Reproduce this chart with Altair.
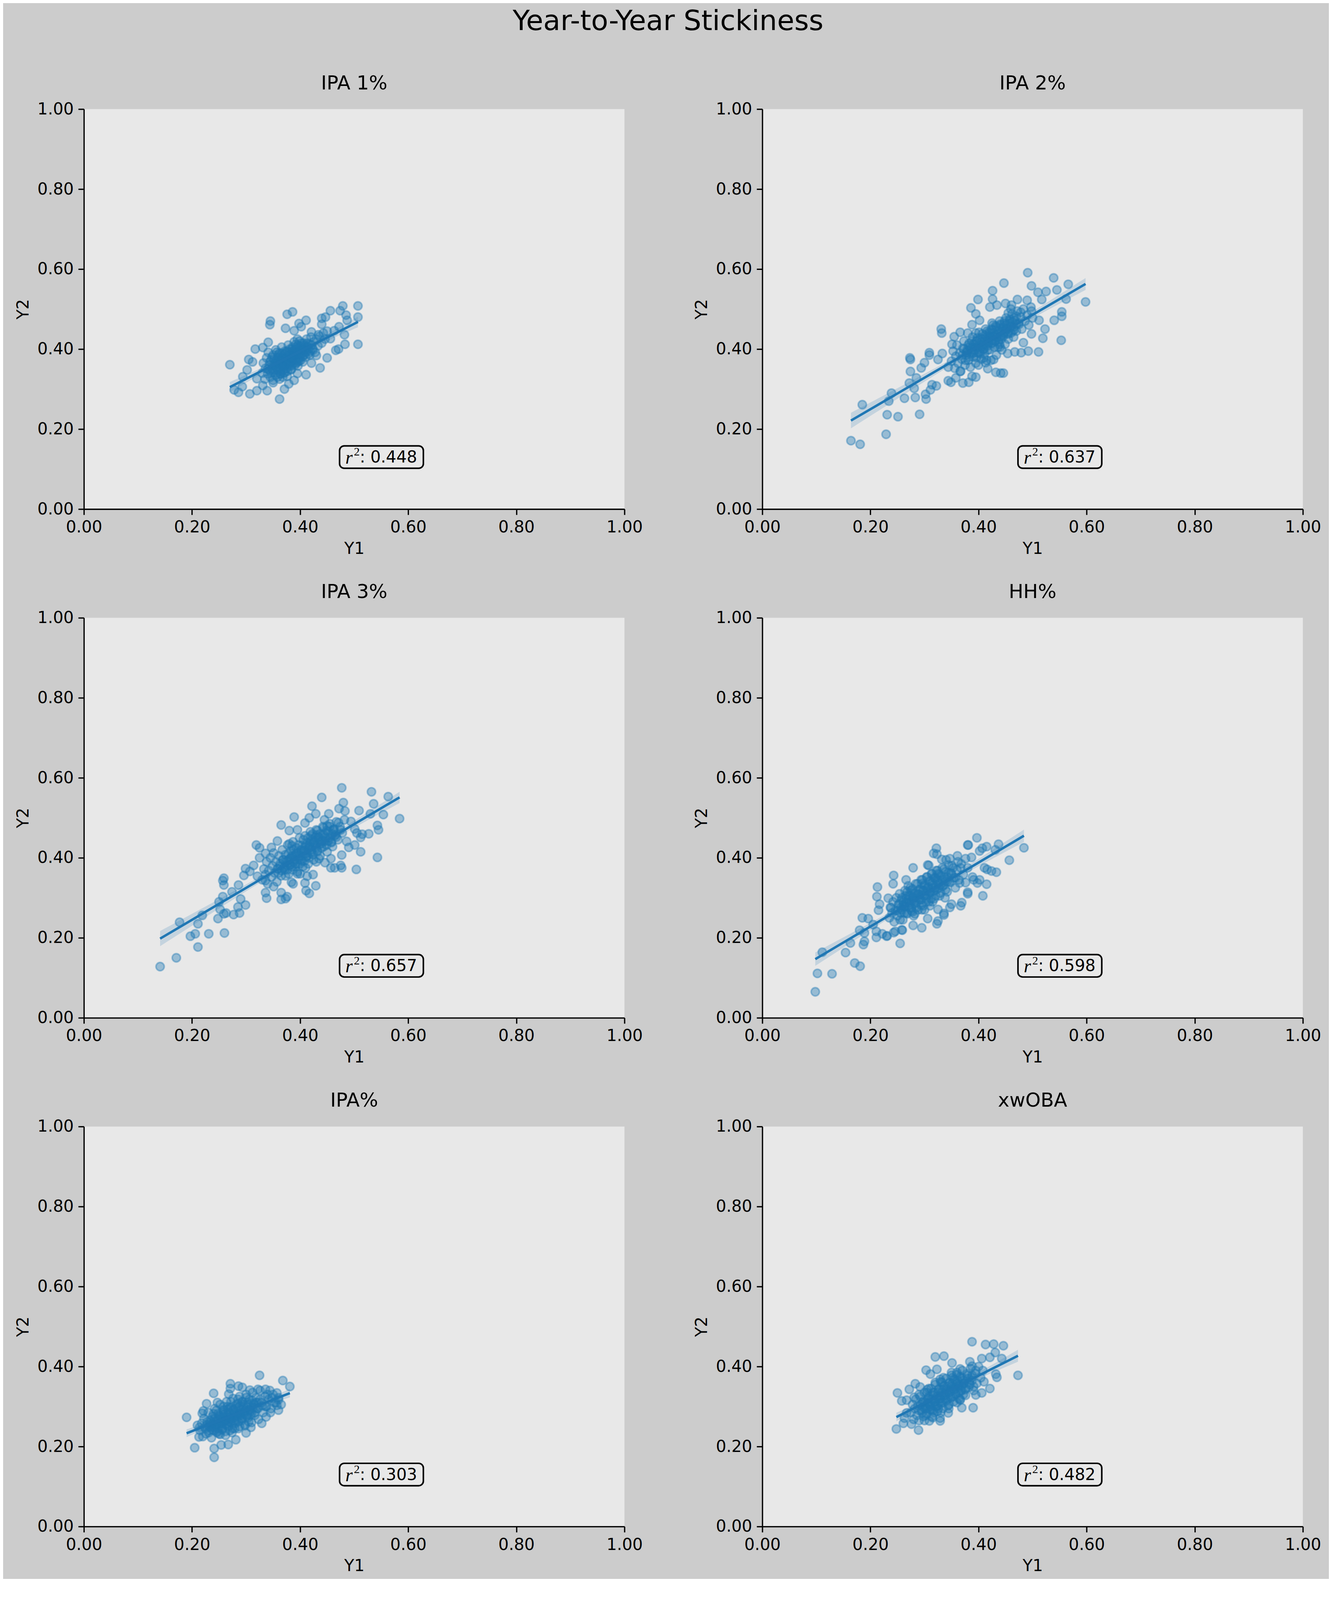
import altair as alt
import numpy as np
import pandas as pd

SUPTITLE = "Year-to-Year Stickiness"
TITLES = ["IPA 1%", "IPA 2%", "IPA 3%", "HH%", "IPA%", "xwOBA"]
R2_LABELS = ["0.448", "0.637", "0.657", "0.598", "0.303", "0.482"]
TICKS = [0.0, 0.2, 0.4, 0.6, 0.8, 1.0]
BOX_X = [0.473, 0.628]
BOX_Y = [0.102, 0.158]
LABEL_POS = [0.5505, 0.129]

# (Y1, Y2) pairs
P1 = [(0.270,0.361),(0.278,0.298),(0.286,0.292),(0.293,0.306),(0.307,0.288),(0.320,0.296),(0.339,0.296),
      (0.362,0.275),(0.371,0.300),(0.379,0.313),(0.345,0.470),(0.344,0.461),(0.376,0.487),(0.386,0.493),
      (0.373,0.452),(0.317,0.400),(0.305,0.374),(0.302,0.348),(0.294,0.331),(0.411,0.472),(0.398,0.464),
      (0.440,0.477),(0.447,0.480),(0.456,0.496),(0.479,0.508),(0.474,0.496),(0.507,0.508),(0.507,0.480),
      (0.485,0.485),(0.487,0.472),(0.482,0.436),(0.483,0.412),(0.507,0.412),(0.466,0.397),(0.471,0.400),
      (0.450,0.378),(0.437,0.353),(0.411,0.336),(0.395,0.339),(0.421,0.365),(0.456,0.426),(0.463,0.446),
      (0.472,0.456),(0.440,0.462),(0.434,0.436),(0.421,0.443),(0.389,0.446),(0.402,0.456),(0.341,0.417),
      (0.331,0.404),(0.312,0.368),(0.320,0.326),(0.331,0.309),(0.350,0.316),(0.389,0.322),(0.376,0.332),
      (0.430,0.384),
      (0.330,0.340),(0.332,0.365),(0.335,0.325),(0.336,0.352),(0.338,0.378),(0.340,0.338),(0.341,0.392),
      (0.343,0.360),(0.345,0.330),(0.346,0.372),(0.348,0.350),(0.350,0.385),(0.351,0.342),(0.353,0.365),
      (0.355,0.398),(0.356,0.355),(0.358,0.330),(0.359,0.378),(0.360,0.362),(0.362,0.390),(0.363,0.345),
      (0.365,0.372),(0.366,0.405),(0.368,0.358),(0.369,0.383),(0.370,0.340),(0.372,0.395),(0.373,0.368),
      (0.375,0.352),(0.376,0.380),(0.378,0.410),(0.379,0.362),(0.380,0.392),(0.382,0.375),(0.383,0.348),
      (0.385,0.400),(0.386,0.385),(0.388,0.365),(0.389,0.418),(0.390,0.392),(0.392,0.372),(0.393,0.405),
      (0.395,0.385),(0.396,0.358),(0.398,0.398),(0.399,0.420),(0.400,0.378),(0.402,0.408),(0.404,0.390),
      (0.405,0.368),(0.407,0.415),(0.408,0.398),(0.410,0.380),(0.412,0.425),(0.413,0.405),(0.415,0.388),
      (0.417,0.412),(0.419,0.395),(0.420,0.430),(0.423,0.402),(0.425,0.418),(0.428,0.392),(0.430,0.425),
      (0.433,0.408),(0.436,0.432),(0.440,0.415),(0.443,0.440),(0.446,0.425),(0.450,0.445),
      (0.340,0.350),(0.344,0.368),(0.347,0.340),(0.349,0.360),(0.352,0.375),(0.354,0.348),(0.357,0.366),
      (0.359,0.385),(0.361,0.352),(0.363,0.372),(0.364,0.338),(0.366,0.390),(0.367,0.362),(0.369,0.348),
      (0.371,0.378),(0.372,0.360),(0.374,0.392),(0.375,0.370),(0.377,0.345),(0.378,0.385),(0.380,0.365),
      (0.381,0.400),(0.383,0.378),(0.384,0.358),(0.386,0.395),(0.387,0.372),(0.389,0.382),(0.390,0.360),
      (0.392,0.400),(0.393,0.385),(0.395,0.368),(0.396,0.410),(0.398,0.388),(0.400,0.395),(0.401,0.372),
      (0.403,0.415),(0.405,0.400),(0.407,0.385),(0.409,0.405),(0.411,0.392),(0.414,0.415),(0.416,0.400),
      (0.418,0.385),(0.421,0.410),(0.424,0.398),(0.355,0.335),(0.362,0.325),(0.368,0.330),(0.350,0.322),
      (0.395,0.425)]
D1 = [(0.352,0.358),(0.355,0.372),(0.358,0.348),(0.360,0.380),(0.362,0.362),(0.365,0.350),(0.366,0.378),
      (0.368,0.368),(0.370,0.355),(0.371,0.388),(0.373,0.375),(0.375,0.362),(0.376,0.395),(0.378,0.372),
      (0.380,0.358),(0.381,0.385),(0.383,0.368),(0.385,0.378),(0.386,0.405),(0.388,0.390),(0.390,0.375),
      (0.391,0.398),(0.393,0.365),(0.395,0.392),(0.397,0.378),(0.399,0.405),(0.401,0.388),(0.403,0.398),
      (0.405,0.382),(0.408,0.410),(0.345,0.345),(0.348,0.380),(0.357,0.392),(0.363,0.338),(0.372,0.342),
      (0.384,0.350),(0.392,0.412),(0.398,0.370),(0.410,0.395),(0.414,0.405)]

P2 = [(0.164,0.171),(0.181,0.162),(0.229,0.187),(0.185,0.261),(0.231,0.236),(0.251,0.231),(0.291,0.237),
      (0.239,0.290),(0.234,0.270),(0.263,0.277),(0.283,0.279),(0.303,0.275),(0.302,0.287),(0.281,0.302),
      (0.272,0.315),(0.311,0.298),(0.314,0.311),(0.322,0.308),(0.274,0.344),(0.274,0.374),(0.273,0.378),
      (0.294,0.353),(0.285,0.328),(0.309,0.391),(0.309,0.385),(0.331,0.450),(0.332,0.440),(0.344,0.321),
      (0.349,0.317),(0.371,0.315),(0.382,0.317),(0.395,0.330),(0.388,0.332),(0.358,0.328),(0.417,0.351),
      (0.432,0.342),(0.441,0.340),(0.446,0.340),(0.386,0.503),(0.399,0.524),(0.395,0.488),(0.426,0.546),
      (0.426,0.525),(0.447,0.565),(0.491,0.591),(0.498,0.558),(0.539,0.578),(0.566,0.562),(0.545,0.548),
      (0.525,0.544),(0.510,0.542),(0.517,0.524),(0.562,0.525),(0.598,0.518),(0.554,0.493),(0.554,0.482),
      (0.540,0.472),(0.523,0.450),(0.519,0.427),(0.553,0.422),(0.511,0.393),(0.492,0.395),(0.479,0.391),
      (0.467,0.393),(0.454,0.389),(0.472,0.524),(0.490,0.522),(0.461,0.510),(0.450,0.514),(0.434,0.510),
      (0.421,0.505),(0.498,0.495),(0.512,0.472),(0.498,0.438),(0.483,0.416),(0.366,0.442),(0.355,0.431),
      (0.351,0.412),(0.333,0.389),(0.325,0.374),(0.300,0.366),(0.388,0.461),(0.402,0.472),(0.413,0.366),
      (0.428,0.374),(0.439,0.412),(0.366,0.344),(0.344,0.355),
      (0.350,0.370),(0.353,0.395),(0.356,0.352),(0.358,0.382),(0.360,0.410),(0.362,0.365),(0.365,0.390),
      (0.367,0.345),(0.369,0.375),(0.371,0.402),(0.373,0.420),(0.375,0.360),(0.377,0.385),(0.379,0.398),
      (0.381,0.372),(0.383,0.415),(0.385,0.355),(0.387,0.392),(0.389,0.430),(0.391,0.380),(0.393,0.405),
      (0.395,0.365),(0.397,0.420),(0.399,0.390),(0.401,0.442),(0.403,0.400),(0.405,0.375),(0.407,0.425),
      (0.409,0.410),(0.411,0.388),(0.413,0.450),(0.415,0.430),(0.417,0.398),(0.419,0.415),(0.421,0.440),
      (0.423,0.372),(0.425,0.422),(0.427,0.460),(0.429,0.405),(0.431,0.435),(0.433,0.385),(0.435,0.448),
      (0.437,0.418),(0.439,0.470),(0.441,0.432),(0.443,0.398),(0.445,0.455),(0.447,0.440),(0.449,0.412),
      (0.451,0.478),(0.453,0.450),(0.455,0.425),(0.458,0.465),(0.460,0.440),(0.462,0.488),(0.465,0.455),
      (0.467,0.472),(0.470,0.445),(0.472,0.495),(0.475,0.462),(0.478,0.480),(0.480,0.450),(0.483,0.500),
      (0.486,0.470),(0.490,0.485),(0.493,0.460),(0.497,0.505),(0.500,0.478),
      (0.370,0.385),(0.373,0.400),(0.376,0.372),(0.378,0.392),(0.381,0.410),(0.383,0.380),(0.386,0.402),
      (0.388,0.420),(0.391,0.390),(0.393,0.412),(0.396,0.380),(0.398,0.428),(0.400,0.405),(0.403,0.388),
      (0.405,0.418),(0.407,0.438),(0.410,0.400),(0.412,0.425),(0.414,0.410),(0.416,0.445),(0.418,0.420),
      (0.420,0.398),(0.422,0.432),(0.424,0.450),(0.426,0.415),(0.428,0.440),(0.430,0.420),(0.432,0.458),
      (0.434,0.430),(0.436,0.405),(0.438,0.445),(0.440,0.462),(0.442,0.425),(0.444,0.450),(0.446,0.432),
      (0.448,0.470),(0.450,0.445),(0.452,0.462),(0.455,0.438),(0.458,0.475),(0.460,0.455),(0.463,0.468),
      (0.466,0.448),(0.470,0.482),(0.474,0.465),(0.478,0.492),(0.400,0.360),(0.415,0.372),(0.380,0.440),
      (0.460,0.500)]
D2 = [(0.380,0.395),(0.384,0.405),(0.387,0.388),(0.390,0.412),(0.393,0.398),(0.396,0.420),(0.399,0.405),
      (0.402,0.392),(0.404,0.428),(0.407,0.412),(0.409,0.400),(0.412,0.435),(0.414,0.420),(0.417,0.408),
      (0.419,0.442),(0.421,0.428),(0.424,0.415),(0.426,0.448),(0.428,0.432),(0.431,0.420),(0.433,0.455),
      (0.436,0.438),(0.438,0.428),(0.441,0.460),(0.443,0.445),(0.446,0.435),(0.448,0.465),(0.451,0.450),
      (0.454,0.440),(0.457,0.470),(0.460,0.458),(0.463,0.445),(0.466,0.478),(0.470,0.462),(0.395,0.440),
      (0.410,0.378),(0.425,0.465),(0.440,0.405),(0.455,0.490),(0.465,0.430)]

P3 = [(0.141,0.128),(0.171,0.150),(0.211,0.177),(0.197,0.204),(0.206,0.210),(0.231,0.210),(0.260,0.212),
      (0.177,0.239),(0.211,0.235),(0.219,0.256),(0.248,0.248),(0.252,0.271),(0.259,0.260),(0.263,0.262),
      (0.277,0.258),(0.288,0.262),(0.285,0.277),(0.299,0.282),(0.290,0.297),(0.257,0.303),(0.250,0.290),
      (0.274,0.315),(0.286,0.332),(0.259,0.332),(0.257,0.343),(0.259,0.349),(0.299,0.373),(0.296,0.356),
      (0.319,0.432),(0.325,0.425),(0.338,0.299),(0.336,0.313),(0.365,0.296),(0.373,0.298),(0.376,0.303),
      (0.365,0.313),(0.387,0.335),(0.384,0.339),(0.411,0.318),(0.417,0.311),(0.409,0.337),(0.429,0.330),
      (0.424,0.358),(0.413,0.354),(0.457,0.375),(0.464,0.375),(0.477,0.375),(0.475,0.381),(0.504,0.371),
      (0.543,0.401),(0.512,0.415),(0.501,0.432),(0.490,0.426),(0.477,0.407),(0.446,0.388),(0.457,0.398),
      (0.365,0.482),(0.389,0.502),(0.380,0.468),(0.395,0.470),(0.409,0.487),(0.422,0.529),(0.429,0.510),
      (0.417,0.500),(0.440,0.551),(0.477,0.575),(0.480,0.538),(0.472,0.523),(0.483,0.517),(0.453,0.510),
      (0.532,0.565),(0.563,0.553),(0.536,0.535),(0.509,0.518),(0.530,0.510),(0.554,0.508),(0.584,0.498),
      (0.543,0.481),(0.545,0.470),(0.527,0.460),(0.515,0.459),(0.505,0.462),(0.512,0.451),(0.494,0.491),
      (0.501,0.472),(0.486,0.441),(0.358,0.442),(0.347,0.426),(0.336,0.411),(0.325,0.400),(0.314,0.381),
      (0.307,0.366),(0.321,0.354),(0.336,0.343),(0.351,0.328),(0.358,0.373),(0.431,0.457),(0.442,0.442),
      (0.330,0.345),(0.333,0.372),(0.336,0.358),(0.338,0.390),(0.340,0.335),(0.342,0.368),(0.345,0.400),
      (0.347,0.352),(0.349,0.380),(0.351,0.412),(0.353,0.362),(0.355,0.390),(0.357,0.340),(0.359,0.372),
      (0.361,0.405),(0.363,0.385),(0.365,0.355),(0.367,0.420),(0.369,0.395),(0.371,0.370),(0.373,0.408),
      (0.375,0.382),(0.377,0.432),(0.379,0.360),(0.381,0.398),(0.383,0.418),(0.385,0.378),(0.387,0.440),
      (0.389,0.405),(0.391,0.385),(0.393,0.425),(0.395,0.365),(0.397,0.412),(0.399,0.450),(0.401,0.395),
      (0.403,0.430),(0.405,0.378),(0.407,0.418),(0.409,0.455),(0.411,0.402),(0.413,0.438),(0.415,0.385),
      (0.417,0.425),(0.419,0.465),(0.421,0.410),(0.423,0.445),(0.425,0.395),(0.427,0.432),(0.430,0.470),
      (0.432,0.418),(0.434,0.452),(0.437,0.405),(0.439,0.440),(0.442,0.478),(0.444,0.428),(0.447,0.462),
      (0.450,0.415),(0.452,0.450),(0.455,0.485),(0.458,0.438),(0.461,0.470),(0.464,0.455),(0.467,0.490),
      (0.470,0.445),(0.474,0.478),(0.478,0.462),(0.482,0.495),
      (0.360,0.362),(0.363,0.380),(0.366,0.368),(0.368,0.395),(0.371,0.378),(0.373,0.355),(0.376,0.392),
      (0.378,0.410),(0.381,0.382),(0.383,0.400),(0.386,0.370),(0.388,0.420),(0.390,0.395),(0.393,0.410),
      (0.395,0.385),(0.397,0.432),(0.400,0.405),(0.402,0.420),(0.404,0.392),(0.406,0.445),(0.408,0.418),
      (0.410,0.432),(0.413,0.405),(0.415,0.450),(0.417,0.428),(0.419,0.440),(0.421,0.415),(0.423,0.460),
      (0.425,0.438),(0.428,0.452),(0.430,0.425),(0.432,0.468),(0.435,0.445),(0.437,0.460),(0.440,0.435),
      (0.443,0.475),(0.446,0.452),(0.449,0.468),(0.452,0.442),(0.455,0.478),(0.459,0.460),(0.463,0.472),
      (0.467,0.452),(0.471,0.488),(0.475,0.470),(0.395,0.360),(0.410,0.375),(0.380,0.435),(0.445,0.495),
      (0.430,0.390)]
D3 = [(0.370,0.375),(0.373,0.390),(0.376,0.370),(0.379,0.395),(0.382,0.382),(0.385,0.405),(0.388,0.390),
      (0.391,0.378),(0.394,0.412),(0.397,0.398),(0.400,0.385),(0.402,0.418),(0.405,0.405),(0.408,0.392),
      (0.410,0.428),(0.413,0.412),(0.416,0.400),(0.418,0.435),(0.421,0.420),(0.424,0.408),(0.426,0.442),
      (0.429,0.428),(0.432,0.415),(0.434,0.450),(0.437,0.435),(0.440,0.425),(0.443,0.458),(0.446,0.442),
      (0.449,0.432),(0.452,0.465),(0.455,0.450),(0.458,0.440),(0.462,0.470),(0.466,0.458),(0.385,0.430),
      (0.400,0.360),(0.420,0.455),(0.435,0.398),(0.450,0.480),(0.460,0.428)]

P4 = [(0.098,0.065),(0.102,0.111),(0.129,0.110),(0.111,0.164),(0.154,0.163),(0.163,0.187),(0.171,0.137),
      (0.181,0.129),(0.187,0.183),(0.189,0.191),(0.180,0.219),(0.189,0.212),(0.185,0.250),(0.196,0.248),
      (0.211,0.201),(0.211,0.216),(0.230,0.204),(0.222,0.210),(0.255,0.186),(0.246,0.216),(0.259,0.219),
      (0.295,0.225),(0.279,0.231),(0.323,0.235),(0.325,0.242),(0.306,0.248),(0.336,0.257),(0.347,0.276),
      (0.325,0.271),(0.367,0.280),(0.369,0.288),(0.350,0.284),(0.380,0.310),(0.408,0.305),(0.415,0.334),
      (0.402,0.345),(0.398,0.337),(0.391,0.345),(0.433,0.364),(0.424,0.367),(0.416,0.371),(0.411,0.375),
      (0.457,0.394),(0.484,0.425),(0.437,0.434),(0.415,0.428),(0.431,0.420),(0.402,0.417),(0.407,0.424),
      (0.397,0.450),(0.381,0.432),(0.380,0.432),(0.322,0.424),(0.317,0.411),(0.323,0.409),(0.279,0.375),
      (0.243,0.356),(0.242,0.335),(0.213,0.327),(0.212,0.303),(0.217,0.284),(0.215,0.269),(0.380,0.314),
      (0.367,0.375),(0.376,0.398),(0.387,0.401),(0.361,0.405),(0.347,0.398),(0.332,0.396),(0.306,0.382),
      (0.308,0.381),(0.266,0.345),(0.233,0.299),(0.237,0.276),(0.336,0.261),(0.365,0.337),(0.389,0.352),
      (0.231,0.205),(0.258,0.220),(0.243,0.213),(0.205,0.233),
      (0.235,0.250),(0.238,0.275),(0.240,0.262),(0.242,0.290),(0.244,0.240),(0.246,0.268),(0.248,0.300),
      (0.250,0.255),(0.252,0.282),(0.254,0.310),(0.256,0.262),(0.258,0.295),(0.260,0.245),(0.262,0.278),
      (0.264,0.318),(0.266,0.288),(0.268,0.260),(0.270,0.305),(0.272,0.275),(0.274,0.325),(0.276,0.292),
      (0.278,0.265),(0.280,0.312),(0.282,0.285),(0.284,0.335),(0.286,0.300),(0.288,0.270),(0.290,0.320),
      (0.292,0.295),(0.294,0.345),(0.296,0.308),(0.298,0.280),(0.300,0.330),(0.302,0.300),(0.304,0.352),
      (0.306,0.318),(0.308,0.290),(0.310,0.340),(0.312,0.312),(0.314,0.360),(0.316,0.325),(0.318,0.298),
      (0.320,0.348),(0.322,0.320),(0.324,0.368),(0.326,0.335),(0.328,0.305),(0.330,0.355),(0.333,0.328),
      (0.336,0.372),(0.339,0.342),(0.342,0.315),(0.345,0.362),(0.348,0.338),(0.351,0.380),(0.354,0.350),
      (0.357,0.325),(0.360,0.370),(0.364,0.345),(0.368,0.385),(0.372,0.358),(0.376,0.338),(0.380,0.375),
      (0.250,0.268),(0.253,0.285),(0.256,0.275),(0.258,0.300),(0.261,0.282),(0.263,0.262),(0.266,0.298),
      (0.268,0.315),(0.271,0.288),(0.273,0.305),(0.276,0.275),(0.278,0.322),(0.280,0.298),(0.283,0.312),
      (0.285,0.288),(0.287,0.335),(0.290,0.308),(0.292,0.322),(0.294,0.295),(0.296,0.345),(0.298,0.318),
      (0.300,0.332),(0.303,0.305),(0.305,0.352),(0.307,0.328),(0.309,0.342),(0.311,0.315),(0.313,0.360),
      (0.315,0.338),(0.318,0.350),(0.320,0.325),(0.322,0.368),(0.325,0.345),(0.327,0.358),(0.330,0.332),
      (0.333,0.375),(0.336,0.352),(0.339,0.365),(0.342,0.340),(0.345,0.382),(0.349,0.362),(0.353,0.375),
      (0.357,0.350),(0.362,0.390),(0.282,0.260),(0.295,0.270),(0.270,0.330),(0.315,0.290),(0.340,0.395),
      (0.255,0.245)]
D4 = [(0.258,0.270),(0.261,0.290),(0.264,0.278),(0.267,0.262),(0.270,0.295),(0.273,0.282),(0.276,0.268),
      (0.279,0.302),(0.282,0.290),(0.285,0.275),(0.288,0.310),(0.291,0.298),(0.294,0.282),(0.297,0.318),
      (0.300,0.305),(0.303,0.290),(0.306,0.325),(0.309,0.312),(0.312,0.298),(0.315,0.332),(0.318,0.318),
      (0.321,0.305),(0.324,0.340),(0.327,0.325),(0.330,0.312),(0.333,0.345),(0.336,0.332),(0.339,0.320),
      (0.342,0.352),(0.346,0.340),(0.265,0.305),(0.280,0.255),(0.295,0.335),(0.310,0.280),(0.325,0.360),
      (0.338,0.300),(0.350,0.360),(0.275,0.318),(0.300,0.270),(0.320,0.350)]

P5 = [(0.190,0.273),(0.205,0.197),(0.241,0.195),(0.241,0.173),(0.213,0.224),(0.210,0.253),(0.221,0.289),
      (0.227,0.307),(0.240,0.333),(0.271,0.357),(0.271,0.345),(0.268,0.331),(0.286,0.351),(0.293,0.348),
      (0.307,0.341),(0.322,0.343),(0.325,0.378),(0.329,0.258),(0.300,0.234),(0.281,0.217),(0.267,0.205),
      (0.254,0.204),(0.247,0.310),(0.336,0.343),(0.344,0.340),(0.357,0.334),(0.368,0.365),(0.381,0.350),
      (0.360,0.317),(0.360,0.291),(0.357,0.303),(0.336,0.300),(0.337,0.274),(0.309,0.248),(0.214,0.248),
      (0.219,0.283),(0.348,0.322),(0.352,0.310),(0.345,0.285),(0.340,0.330),
      (0.215,0.240),(0.218,0.258),(0.220,0.225),(0.222,0.270),(0.224,0.248),(0.226,0.232),(0.228,0.262),
      (0.230,0.285),(0.232,0.240),(0.234,0.255),(0.236,0.222),(0.238,0.275),(0.240,0.248),(0.242,0.295),
      (0.244,0.262),(0.246,0.235),(0.248,0.282),(0.250,0.255),(0.252,0.305),(0.254,0.270),(0.256,0.242),
      (0.258,0.290),(0.260,0.262),(0.262,0.228),(0.264,0.312),(0.266,0.278),(0.268,0.250),(0.270,0.298),
      (0.272,0.268),(0.274,0.235),(0.276,0.320),(0.278,0.285),(0.280,0.258),(0.282,0.305),(0.284,0.275),
      (0.286,0.245),(0.288,0.325),(0.290,0.292),(0.292,0.265),(0.294,0.312),(0.296,0.282),(0.298,0.252),
      (0.300,0.330),(0.302,0.298),(0.304,0.272),(0.306,0.318),(0.308,0.288),(0.310,0.260),(0.312,0.335),
      (0.314,0.305),(0.316,0.278),(0.318,0.322),(0.320,0.295),(0.323,0.268),(0.326,0.340),(0.329,0.310),
      (0.332,0.285),(0.335,0.325),(0.338,0.300),(0.342,0.318),(0.346,0.295),(0.350,0.330),(0.355,0.310),
      (0.360,0.322),(0.365,0.305),(0.255,0.258),(0.262,0.265),(0.270,0.275),(0.278,0.272),(0.285,0.282),
      (0.268,0.262),(0.275,0.290),(0.258,0.275),(0.290,0.278),(0.248,0.268),
      (0.225,0.245),(0.228,0.255),(0.231,0.235),(0.233,0.265),(0.236,0.248),(0.238,0.258),(0.241,0.240),
      (0.243,0.272),(0.246,0.255),(0.248,0.245),(0.251,0.278),(0.253,0.262),(0.256,0.250),(0.258,0.285),
      (0.261,0.268),(0.263,0.255),(0.266,0.292),(0.268,0.272),(0.271,0.260),(0.273,0.298),(0.276,0.280),
      (0.278,0.265),(0.281,0.295),(0.283,0.278),(0.286,0.262),(0.288,0.302),(0.291,0.285),(0.293,0.270),
      (0.296,0.305),(0.298,0.290),(0.301,0.275),(0.303,0.310),(0.306,0.292),(0.308,0.278),(0.311,0.315),
      (0.313,0.298),(0.316,0.285),(0.319,0.310),(0.322,0.295),(0.326,0.318),(0.330,0.302),(0.250,0.232),
      (0.262,0.238),(0.275,0.245),(0.288,0.250),(0.245,0.290),(0.258,0.300),(0.272,0.312),(0.285,0.318),
      (0.300,0.322)]
D5 = [(0.232,0.250),(0.235,0.262),(0.238,0.242),(0.241,0.268),(0.244,0.252),(0.247,0.238),(0.250,0.275),
      (0.253,0.258),(0.256,0.245),(0.259,0.280),(0.262,0.265),(0.265,0.252),(0.268,0.285),(0.271,0.270),
      (0.274,0.258),(0.277,0.292),(0.280,0.278),(0.283,0.265),(0.286,0.298),(0.289,0.282),(0.292,0.270),
      (0.295,0.300),(0.298,0.288),(0.301,0.278),(0.304,0.305),(0.307,0.292),(0.310,0.282),(0.314,0.308),
      (0.318,0.298),(0.322,0.310),(0.240,0.282),(0.252,0.230),(0.266,0.300),(0.279,0.245),(0.292,0.312),
      (0.305,0.262),(0.258,0.292),(0.270,0.240),(0.285,0.308),(0.298,0.255)]

P6 = [(0.248,0.244),(0.289,0.241),(0.261,0.258),(0.276,0.256),(0.309,0.264),(0.329,0.271),(0.250,0.334),
      (0.272,0.343),(0.283,0.357),(0.258,0.314),(0.267,0.316),(0.303,0.391),(0.323,0.393),(0.320,0.424),
      (0.336,0.426),(0.351,0.409),(0.388,0.462),(0.413,0.455),(0.428,0.456),(0.446,0.452),(0.431,0.435),
      (0.443,0.420),(0.421,0.423),(0.406,0.420),(0.384,0.412),(0.432,0.381),(0.434,0.373),(0.473,0.378),
      (0.421,0.345),(0.410,0.362),(0.406,0.334),(0.390,0.297),(0.369,0.297),(0.366,0.316),(0.344,0.284),
      (0.329,0.264),(0.311,0.381),(0.329,0.368),(0.281,0.323),(0.292,0.349),(0.267,0.284),(0.263,0.271),
      (0.366,0.394),(0.388,0.401),(0.395,0.329),
      (0.275,0.285),(0.278,0.305),(0.280,0.268),(0.282,0.295),(0.284,0.318),(0.286,0.278),(0.288,0.302),
      (0.290,0.265),(0.292,0.325),(0.294,0.290),(0.296,0.310),(0.298,0.275),(0.300,0.335),(0.302,0.300),
      (0.304,0.282),(0.306,0.320),(0.308,0.345),(0.310,0.292),(0.312,0.312),(0.314,0.275),(0.316,0.335),
      (0.318,0.302),(0.320,0.355),(0.322,0.320),(0.324,0.288),(0.326,0.342),(0.328,0.310),(0.330,0.362),
      (0.332,0.328),(0.334,0.295),(0.336,0.350),(0.338,0.318),(0.340,0.370),(0.342,0.338),(0.344,0.302),
      (0.346,0.358),(0.348,0.325),(0.350,0.378),(0.352,0.345),(0.354,0.312),(0.356,0.365),(0.358,0.332),
      (0.360,0.385),(0.362,0.352),(0.364,0.320),(0.366,0.372),(0.368,0.340),(0.370,0.390),(0.373,0.358),
      (0.376,0.328),(0.379,0.378),(0.382,0.348),(0.385,0.395),(0.388,0.365),(0.391,0.340),(0.394,0.382),
      (0.397,0.358),(0.400,0.400),(0.404,0.372),(0.408,0.390),
      (0.290,0.290),(0.293,0.305),(0.296,0.285),(0.298,0.312),(0.301,0.295),(0.303,0.278),(0.306,0.308),
      (0.308,0.325),(0.311,0.300),(0.313,0.318),(0.316,0.290),(0.318,0.335),(0.320,0.312),(0.323,0.325),
      (0.325,0.302),(0.327,0.345),(0.330,0.320),(0.332,0.335),(0.334,0.310),(0.336,0.352),(0.339,0.328),
      (0.341,0.342),(0.343,0.318),(0.346,0.360),(0.348,0.338),(0.350,0.350),(0.353,0.325),(0.355,0.368),
      (0.358,0.345),(0.360,0.358),(0.363,0.335),(0.366,0.375),(0.369,0.352),(0.372,0.365),(0.375,0.342),
      (0.379,0.382),(0.383,0.360),(0.387,0.372),(0.391,0.350),(0.395,0.390),(0.300,0.265),(0.315,0.272),
      (0.330,0.285),(0.345,0.295),(0.290,0.330),(0.305,0.342),(0.320,0.360),(0.335,0.372),(0.350,0.385),
      (0.360,0.310)]
D6 = [(0.298,0.298),(0.301,0.312),(0.304,0.295),(0.307,0.320),(0.310,0.305),(0.313,0.292),(0.316,0.328),
      (0.319,0.312),(0.322,0.300),(0.325,0.335),(0.328,0.320),(0.331,0.308),(0.334,0.342),(0.337,0.328),
      (0.340,0.315),(0.343,0.350),(0.346,0.335),(0.349,0.322),(0.352,0.358),(0.355,0.342),(0.358,0.330),
      (0.361,0.365),(0.364,0.350),(0.367,0.338),(0.370,0.372),(0.373,0.358),(0.376,0.345),(0.380,0.370),
      (0.384,0.355),(0.388,0.378),(0.305,0.335),(0.318,0.285),(0.332,0.360),(0.345,0.305),(0.360,0.380),
      (0.372,0.330),(0.312,0.345),(0.326,0.295),(0.352,0.372),(0.366,0.318)]

PANELS = [P1 + D1, P2 + D2, P3 + D3, P4 + D4, P5 + D5, P6 + D6]

BLUE = "#1f77b4"
FONT = "DejaVu Sans"
W, H = 1392, 1030


def ci_band(df):
    x = df["Y1"].to_numpy()
    y = df["Y2"].to_numpy()
    n = len(x)
    b, a = np.polyfit(x, y, 1)
    resid = y - (a + b * x)
    s = np.sqrt(np.sum(resid ** 2) / (n - 2))
    xm = x.mean()
    sxx = np.sum((x - xm) ** 2)
    grid = np.linspace(x.min(), x.max(), 60)
    se = s * np.sqrt(1.0 / n + (grid - xm) ** 2 / sxx)
    fit = a + b * grid
    return pd.DataFrame({"Y1": grid, "lo": fit - 1.97 * se, "hi": fit + 1.97 * se})


def panel(title, pts, r2):
    df = pd.DataFrame(pts, columns=["Y1", "Y2"])
    scale = alt.Scale(domain=[0, 1], nice=False, zero=False)
    xax = alt.Axis(values=TICKS, format=".2f", title="Y1")
    yax = alt.Axis(values=TICKS, format=".2f", title="Y2")
    X = alt.X("Y1:Q", scale=scale, axis=xax)
    Y = alt.Y("Y2:Q", scale=scale, axis=yax)

    dots = alt.Chart(df).mark_circle(
        size=460, color=BLUE, fillOpacity=0.4, stroke=BLUE, strokeOpacity=0.4, strokeWidth=4
    ).encode(x=X, y=Y)

    band = alt.Chart(ci_band(df)).mark_area(color=BLUE, opacity=0.18).encode(
        x=alt.X("Y1:Q", scale=scale), y=alt.Y("lo:Q", scale=scale), y2="hi:Q"
    )

    line = alt.Chart(df).transform_regression("Y1", "Y2").mark_line(
        color=BLUE, strokeWidth=6.25
    ).encode(x=alt.X("Y1:Q", scale=scale), y=alt.Y("Y2:Q", scale=scale))

    box_df = pd.DataFrame({"x0": [BOX_X[0]], "x1": [BOX_X[1]], "y0": [BOX_Y[0]], "y1": [BOX_Y[1]]})
    box = alt.Chart(box_df).mark_rect(
        fill="#e8e8e8", stroke="black", strokeWidth=4, cornerRadius=12
    ).encode(
        x=alt.X("x0:Q", scale=scale), x2="x1:Q", y=alt.Y("y0:Q", scale=scale), y2="y1:Q"
    )

    lab_df = pd.DataFrame({"x": [LABEL_POS[0]], "y": [LABEL_POS[1]], "r": ["r"], "sup": ["2"],
                           "val": [": " + r2]})
    base = alt.Chart(lab_df).encode(x=alt.X("x:Q", scale=scale), y=alt.Y("y:Q", scale=scale))
    t_r = base.mark_text(font="Liberation Serif", fontStyle="italic", fontSize=48, align="left",
                         baseline="middle", dx=-93, dy=2, color="black").encode(text="r:N")
    t_s = base.mark_text(font="Liberation Serif", fontSize=30, align="left",
                         baseline="middle", dx=-71, dy=-14, color="black").encode(text="sup:N")
    t_v = base.mark_text(font=FONT, fontSize=42, align="left",
                         baseline="middle", dx=-56, dy=0, color="black").encode(text="val:N")

    return alt.layer(dots, band, line, box, t_r, t_s, t_v).properties(
        width=W, height=H,
        title=alt.TitleParams(title, fontSize=50, font=FONT, fontWeight="normal", color="black", offset=20),
    )


charts = [panel(t, p, r) for t, p, r in zip(TITLES, PANELS, R2_LABELS)]
rows = [alt.hconcat(charts[i], charts[i + 1], spacing=130) for i in (0, 2, 4)]

chart = alt.vconcat(*rows, spacing=66).properties(
    title=alt.TitleParams(SUPTITLE, fontSize=72, font=FONT, fontWeight="normal", color="black",
                          anchor="middle", offset=97),
    padding={"left": 30, "top": 0, "right": 20, "bottom": 0},
).configure(background="#cccccc").configure_view(fill="#e8e8e8", strokeWidth=0).configure_axis(
    grid=False, domainColor="black", domainWidth=3.3, tickColor="black", tickWidth=3.3, tickSize=14.6,
    labelFont=FONT, labelFontSize=42, labelColor="black", labelPadding=12, labelFlush=False,
    labelOverlap=False, labelBound=False,
    titleFont=FONT, titleFontSize=42, titleFontWeight="normal", titleColor="black", titlePadding=14,
)

chart.save("out.html", embed_options={"renderer": "svg", "actions": False})
